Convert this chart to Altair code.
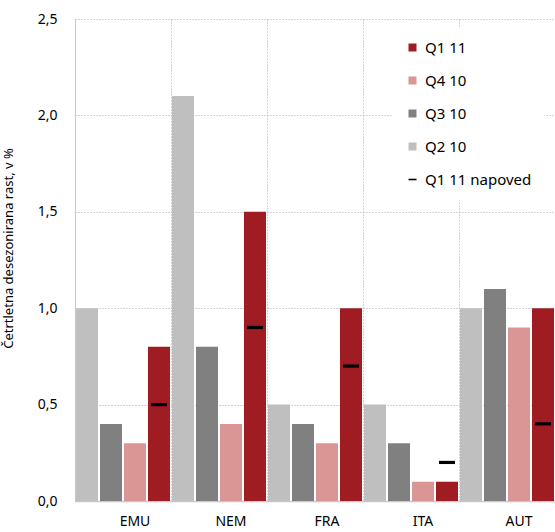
import altair as alt
import pandas as pd

# Quarterly seasonally adjusted growth, %
countries = ["EMU", "NEM", "FRA", "ITA", "AUT"]
q2_10 = [1.0, 2.1, 0.5, 0.5, 1.0]
q3_10 = [0.4, 0.8, 0.4, 0.3, 1.1]
q4_10 = [0.3, 0.4, 0.3, 0.1, 0.9]
q1_11 = [0.8, 1.5, 1.0, 0.1, 1.0]
q1_11_forecast = [0.5, 0.9, 0.7, 0.2, 0.4]

bar_series = ["Q2 10", "Q3 10", "Q4 10", "Q1 11"]
forecast_name = "Q1 11 napoved"
legend_order = ["Q1 11", "Q4 10", "Q3 10", "Q2 10", forecast_name]
legend_colors = ["#9E1C22", "#D99694", "#808080", "#BFBFBF", "#000000"]
dash_path = "M-1,-0.2H1V0.2H-1Z"
legend_shapes = ["square", "square", "square", "square", dash_path]

rows = []
for name, vals in zip(bar_series, [q2_10, q3_10, q4_10, q1_11]):
    for c, v in zip(countries, vals):
        rows.append({"country": c, "series": name, "slot": name, "value": v})
bars_df = pd.DataFrame(rows)

forecast_df = pd.DataFrame({
    "country": countries,
    "series": [forecast_name] * len(countries),
    "slot": ["Q1 11"] * len(countries),
    "value": q1_11_forecast,
})

legend = alt.Legend(
    title=None, orient="none", legendX=318, legendY=9,
    fillColor="white", padding=12, rowPadding=17,
    labelFontSize=15, labelColor="#000000", labelOffset=5,
    symbolSize=64, symbolStrokeWidth=0,
)

x_enc = alt.X(
    "country:N", sort=countries,
    scale=alt.Scale(domain=countries, paddingInner=0, paddingOuter=0),
    axis=alt.Axis(
        title=None, bandPosition=0, labelOffset=12, labelAngle=0,
        grid=True, gridDash=[1, 2], gridColor="#A8A8A8",
        ticks=False, domainColor="#C8C8C8", domainWidth=1.5,
        labelFontSize=14, labelPadding=13, labelColor="#000000",
    ),
)
xoff_enc = alt.XOffset(
    "slot:N",
    scale=alt.Scale(domain=bar_series, paddingInner=0.083, paddingOuter=0.0415),
)
y_enc = alt.Y(
    "value:Q",
    scale=alt.Scale(domain=[0, 2.5], nice=False),
    axis=alt.Axis(
        values=[0, 0.5, 1.0, 1.5, 2.0, 2.5],
        labelExpr="replace(format(datum.value, '.1f'), '.', ',')",
        title="Četrtletna desezonirana rast, v %",
        titleFontSize=13, titleFontWeight="normal", titleColor="#000000",
        titleX=-60, titleY=229, titleAngle=270,
        grid=True, gridDash=[1, 2], gridColor="#A8A8A8",
        ticks=False, domainColor="#C8C8C8", domainWidth=1,
        labelFontSize=14, labelPadding=18, labelColor="#000000",
    ),
)

bars = alt.Chart(bars_df).mark_bar().encode(
    x=x_enc,
    xOffset=xoff_enc,
    y=y_enc,
    color=alt.Color("series:N",
                    scale=alt.Scale(domain=legend_order, range=legend_colors),
                    legend=legend),
)

forecast = alt.Chart(forecast_df).mark_point(filled=True, size=256, opacity=1).encode(
    x=x_enc,
    xOffset=xoff_enc,
    y=y_enc,
    color=alt.Color("series:N",
                    scale=alt.Scale(domain=legend_order, range=legend_colors),
                    legend=legend),
    shape=alt.Shape("series:N",
                    scale=alt.Scale(domain=legend_order, range=legend_shapes),
                    legend=legend),
)

chart = alt.layer(bars, forecast).properties(
    width=480, height=482,
    autosize=alt.AutoSizeParams(type="none"),
    padding={"left": 75, "top": 19, "right": 0, "bottom": 31},
).configure(
    font="Noto Sans",
).configure_view(stroke=None)

chart.save("out.html", embed_options={"renderer": "svg", "actions": False})
